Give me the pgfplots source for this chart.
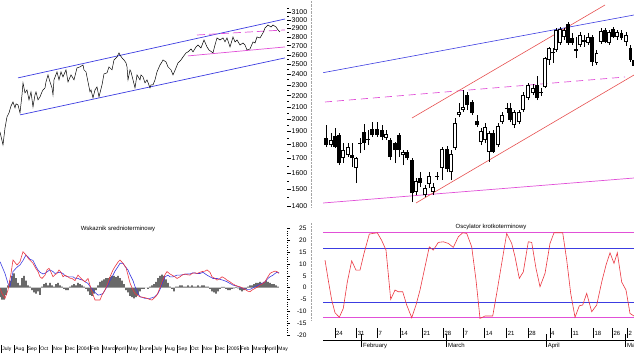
\documentclass[border=0pt]{standalone}
\usepackage{fontspec}
\setmainfont{Liberation Sans}
\usepackage{pgfplots}
\pgfplotsset{compat=1.18}
\usepackage{pgfplotstable}
\definecolor{chblue}{RGB}{60,60,225}
\definecolor{chmag}{RGB}{225,80,215}
\definecolor{chred}{RGB}{235,55,65}
\definecolor{chsalmon}{RGB}{230,80,80}
\definecolor{chgray}{RGB}{105,105,105}
\newcommand{\dl}[1]{\rule[2pt]{0.4pt}{10pt}\kern1.2pt\raisebox{4pt}{#1}}
\newcommand{\ml}[1]{\rule[-2pt]{0pt}{2pt}\rule[0.5pt]{0.4pt}{13pt}\kern1.5pt #1}
\newcommand{\lm}[1]{\rule[-3pt]{0.4pt}{8pt}\kern0.8pt #1}

% candles: x, high, low, body top, body bottom (height above panel bottom)
\pgfplotstableread{
x hi lo top bot
326 85 63 72 65
335 82 62 74 63
339 77 45 75 47
352 67 43 55 52
360 72 57 67 66
364 86 60 78 67
368 80 65 71 70
372 88 73 81 75
377 88 73 81 75
382 85 70 80 73
390 72 50 70 53
395 68 47 67 60
399 77 53 75 60
407 60 50 58 52
412 52 8 50 17
420 38 23 32 27
437 38 30 34.5 33.5
447 64 38 61 41
467 118 100 115 105
472 110 95 108 97
477 95 83 89 85
493 80 57 77 58
507 107 97 102 101
510 107 88 102 90
537 134 110 125 112
541 122 114 118 117
553 162 147 157.5 156.5
568 188 165 186 167
572 177 165 172 167
576 173 152 161 159
584 175 163 170 168
592 175 144 173 148
605 182 167 180 168
613 183 172 181 173
621.5 180 170 177 172
630.5 165 148 162 150
634 152 140 150 144
}\blackc
\pgfplotstableread{
x hi lo top bot
331 77 63 70 65
343 67 47 60 52
348 67 53 63 55
356 53 27 52 42
386 80 70 76 72
403 60 45 58 55
416 32 15 29 18
425 25 13 22 15
429 38 22 34 26
433 27 15 23 18
442 63 30 61 42
451 60 30 56 38
455 92 60 87 62
459 107 93 98 95
463 120 98 103 100
481 82 65 79 68
485 87 67 83 70
489 79 48 77 58
498 87 63 84 65
502 98 86 95 88
514 100 82 98 85
519 100 86 98 88
523 118 98 115 100
528 127 110 125 112
533 126 115 122 117
545 153 122 152 123
549 163 145 162 150
556 182 158 180 160
560 183 165 181 167
564 182 170 180 173
580 178 163 175 165
588 177 165 173 167
596.5 160 145 157 147
601 182 166 179 168
609 180 165 178 167
617 180 170 178 173
626 178 164 175 168
}\whitec

\begin{document}
\begin{tikzpicture}[x=1pt,y=1pt]
\useasboundingbox (0,0) rectangle (634,357);

% ---------------- top left: long-term price chart
\begin{axis}[
 at={(0pt,149.3pt)}, anchor=south west, scale only axis,
 width=287pt, height=203.45pt,
 xmin=0, xmax=287, ymin=1390, ymax=3200, ymode=log,
 axis x line=none, axis y line*=right,
 y axis line style={draw=none},
 ytick={1400,1500,1600,1700,1800,1900,2000,2100,2200,2300,2400,2500,2600,2700,2800,2900,3000,3100},
 yticklabels={1400,1500,1600,1700,1800,1900,2000,2100,2200,2300,2400,2500,2600,2700,2800,2900,3000,3100},
 minor ytick={1450,1550,1650,1750,1850,1950,2050,2150,2250,2350,2450,2550,2650,2750,2850,2950,3050,3150},
 tick align=outside, major tick length=3.5pt, minor tick length=1.5pt,
 tick style={black, line width=0.5pt},
 yticklabel style={font=\fontsize{7}{8}\selectfont, inner sep=1pt},
]
\addplot[chblue, line width=0.7pt] coordinates {(18,2366) (285,3012)};
\addplot[chblue, line width=0.7pt] coordinates {(20,2033) (285,2568)};
\addplot[chmag, line width=0.7pt] coordinates {(188,2589) (285,2686)};
\addplot[chmag, line width=0.7pt, dash pattern=on 8pt off 4pt] coordinates {(197,2821) (285,2880)};
\addplot[black, line width=0.5pt] coordinates {
(0,1896) (3,1798) (5,1927) (7,2017) (9,2050) (11,2109) (13,2144) (15,2092) (16,2127) (18,2118)
(20,2050) (22,2207) (23,2318) (25,2225) (27,2252) (29,2162) (31,2234) (33,2101) (35,2207) (36,2234)
(38,2162) (40,2189) (42,2234) (43,2252) (45,2271) (46,2327) (48,2395) (50,2327) (52,2271) (53,2207)
(54,2347) (57,2425) (59,2347) (61,2425) (63,2376) (66,2445) (68,2327) (71,2395) (74,2347) (77,2465)
(80,2475) (83,2495) (84,2445) (86,2425) (88,2327) (90,2234) (91,2252) (93,2180) (95,2252) (97,2280)
(99,2189) (102,2299) (104,2405) (107,2415) (109,2475) (112,2445) (114,2547) (117,2578) (119,2621) (120,2599)
(122,2568) (124,2547) (126,2516) (127,2475) (128,2347) (130,2445) (131,2425) (133,2347) (135,2271) (137,2395)
(140,2347) (141,2395) (143,2376) (145,2318) (147,2347) (150,2271) (151,2299) (153,2299) (155,2347) (157,2425)
(160,2495) (162,2526) (163,2547) (166,2526) (168,2475) (171,2445) (173,2395) (176,2465) (178,2516) (181,2547)
(183,2578) (186,2621) (188,2632) (191,2664) (193,2632) (196,2686) (198,2708) (201,2675) (204,2764) (207,2686)
(209,2653) (213,2621) (215,2708) (217,2787) (220,2764) (223,2787) (225,2742) (227,2787) (230,2686) (233,2798)
(235,2742) (237,2764) (240,2708) (243,2730) (245,2708) (247,2653) (250,2664) (253,2742) (255,2730) (257,2798)
(260,2787) (263,2845) (265,2903) (268,2939) (271,2915) (273,2939) (276,2915) (278,2880) (280,2856)};
\end{axis}

% ---------------- bottom left: medium-term indicator
\begin{axis}[
 at={(0pt,17.16pt)}, anchor=south west, scale only axis,
 width=287pt, height=116.13pt,
 xmin=0, xmax=287, ymin=-22, ymax=27,
 axis x line*=bottom, axis y line*=right,
 x axis line style={draw=none}, y axis line style={draw=none},
 xtick style={draw=none},
 xtick={1,14,26.5,39,52,64.5,77,89.5,102,114.5,127,139.5,152,164.5,177,189.5,202,214.5,227,239.5,252,264.5,277},
 xticklabels={{\lm{July}},{\lm{Aug}},{\lm{Sep}},{\lm{Oct}},{\lm{Nov}},{\lm{Dec}},{\lm{2004}},{\lm{Feb}},{\lm{March}},{\lm{April}},{\lm{May}},{\lm{June}},{\lm{July}},{\lm{Aug}},{\lm{Sep}},{\lm{Oct}},{\lm{Nov}},{\lm{Dec}},{\lm{2005}},{\lm{Feb}},{\lm{March}},{\lm{April}},{\lm{May}}},
 xticklabel style={font=\fontsize{5}{5}\selectfont, anchor=north west, inner sep=0pt, yshift=-2pt},
 ytick={-20,-15,-10,-5,0,5,10,15,20,25}, minor y tick num=4,
 tick align=outside, major tick length=3pt, minor tick length=1.2pt,
 ytick style={black, line width=0.5pt},
 yticklabel style={font=\fontsize{6.5}{7}\selectfont, anchor=east, xshift=20pt},
 /pgf/number format/assume math mode=true,
]
\addplot[ybar, bar width=1.7pt, fill=chgray, draw=none] coordinates {
(0,-4) (2,-5) (4,-5) (6,-3) (8,1) (10,3) (12,5) (14,6) (16,4) (18,2) (20,1) (22,4) (24,5) (26,3)
(28,1) (30,0.5) (32,-1) (34,-2) (36,-2.5) (38,-1.5) (40,-3) (42,0.5) (44,1.5) (46,2) (48,1) (50,2)
(52,1) (54,0.5) (56,1.5) (58,2) (60,1) (62,0.5) (64,-0.5) (66,-1) (68,-1) (70,0.5) (72,1) (74,1.5)
(76,1) (78,2) (80,1.5) (82,1) (84,0.5) (86,-0.5) (88,-1.5) (90,-3) (92,-3.5) (94,-2.5) (96,-1)
(98,1) (100,2.5) (102,3) (104,3.5) (106,4) (108,4) (110,4.5) (112,5) (114,5) (116,4.5) (118,5)
(120,4) (122,3) (124,1.5) (126,-1) (128,-2) (130,-3.5) (132,-4) (134,-4.5) (136,-4) (138,-3)
(140,-1.5) (142,-0.5) (144,-0.5) (146,0) (148,-0.5) (150,0.5) (152,1) (154,1.5) (156,2.5) (158,4)
(160,5) (162,5.5) (164,5) (166,3.5) (168,2) (170,0.5) (172,-0.5) (174,-1.5) (176,0.5) (178,0.5)
(180,1) (182,1) (184,0.5) (186,0.5) (188,1) (190,0.5) (192,1) (194,0.5) (196,0.5) (198,1) (200,0.5)
(202,1) (204,1) (206,0.5) (208,0.5) (210,-0.5) (212,-1.5) (214,-2) (216,-2.5) (218,-1.5) (220,-0.5)
(222,0.3) (224,0.3) (226,-0.5) (228,-1) (230,-1) (232,-0.5) (234,-0.3) (236,0.3) (238,-0.3) (240,-1)
(242,-1.5) (244,-1) (246,-0.5) (248,0.5) (250,1) (252,1) (254,1.5) (256,2) (258,2) (260,2.5) (262,2)
(264,2.5) (266,3) (268,2.5) (270,2) (272,1.5) (274,1.5) (276,1) (278,0.5)};
\addplot[chblue, line width=0.6pt] coordinates {
(0,11.0) (2,9.0) (5,6.0) (8,1.8) (10,0.5) (13,6.8) (16,8.2) (18,9.0) (20,9.6) (23,11.5) (26,13.8)
(28,13.0) (30,12.0) (33,11.5) (36,8.9) (38,7.5) (40,6.5) (43,5.8) (46,6.3) (48,7.0) (50,7.5) (53,6.8)
(55,6.0) (57,6.3) (60,6.5) (63,6.0) (65,5.0) (68,4.6) (70,4.6) (73,4.6) (75,4.0) (78,3.9) (80,3.5)
(83,3.2) (85,2.5) (88,1.8) (90,0.5) (93,-1.0) (95,-2.0) (98,-3.1) (100,-3.0) (103,-2.4) (105,-1.0)
(108,1.1) (110,3.0) (113,5.3) (115,7.0) (118,8.9) (120,10.3) (123,10.3) (125,9.0) (128,7.5) (130,5.5)
(133,3.0) (135,0.5) (138,-2.4) (140,-3.8) (143,-4.2) (145,-4.5) (148,-4.5) (150,-4.5) (153,-4.1)
(155,-3.8) (158,-2.4) (160,-0.7) (163,2.5) (165,4.6) (168,5.3) (170,4.6) (173,4.6) (177,5.3) (180,5.3)
(183,5.5) (187,5.8) (190,5.8) (193,6.3) (197,6.0) (200,6.0) (203,6.5) (207,5.3) (210,4.6) (213,3.9)
(217,3.9) (220,3.5) (223,3.2) (227,2.5) (230,1.8) (233,1.1) (237,0.7) (240,0.1) (243,-0.3) (247,-0.7)
(250,-0.7) (252,-0.3) (255,0.4) (258,1.0) (262,1.8) (265,2.5) (268,3.9) (270,4.6) (273,5.3) (275,6.0)
(277,6.5) (279,6.3)};
\addplot[chred, line width=0.6pt] coordinates {
(0,-0.3) (2,-2.4) (5,-4.5) (8,-1) (11,6) (13,11.7) (17,9.6) (20,11) (23,15.2) (26,13.8) (29,12)
(33,10.3) (36,8) (38,6.8) (40,4.6) (42,3.9) (45,5.3) (47,7.5) (49,8.2) (51,6.5) (53,4.6) (55,5.5)
(57,6.0) (59,7.5) (61,6.5) (63,4.6) (65,5.3) (68,4.6) (70,4.0) (72,3.9) (75,3.0) (78,5.3) (82,3.5)
(85,2.5) (88,3.9) (90,1.0) (92,-1.7) (95,-5.2) (98,-5.2) (100,-5.2) (102,-3.1) (105,-1.0) (108,2.0)
(110,4.6) (113,7.5) (115,8.9) (118,10.8) (120,11.7) (123,10.3) (126,8.5) (128,5.3) (130,2.0)
(133,-1.0) (135,-2.5) (137,-3.1) (140,-3.8) (142,-4.0) (145,-4.2) (147,-4.5) (150,-5.0) (152,-5.2)
(155,-4.0) (157,-3.1) (160,0) (162,2.5) (165,5.5) (167,6.8) (170,5.8) (172,5.3) (175,4.6) (177,3.9)
(180,4.6) (182,5.3) (185,5.8) (187,5.5) (190,5.3) (192,6.0) (195,6.3) (197,6.0) (200,6.5) (202,6.8)
(205,7.0) (207,7.5) (210,6.5) (212,4.6) (215,3.9) (217,3.2) (220,3.9) (222,4.6) (225,3.9) (227,3.2)
(230,2.5) (232,1.8) (235,1.1) (237,0.7) (240,0.4) (242,0.0) (245,-0.7) (248,-1.5) (250,-1.7)
(252,-1.0) (255,-0.3) (258,0.4) (260,1.1) (262,1.5) (265,2.5) (267,4.0) (270,6.0) (272,6.5) (275,7.0)
(277,6.8) (279,6.0)};
\node[font=\fontsize{6}{6}\selectfont] at (axis cs:118,24.8) {Wskaznik srednioterminowy};
\end{axis}

% ---------------- top right: candlestick chart
\draw[gray!70, densely dotted, line width=0.4pt] (311,150) -- (311,357);
\begin{axis}[
 at={(323pt,147pt)}, anchor=south west, scale only axis,
 width=311pt, height=210pt,
 xmin=323, xmax=634, ymin=0, ymax=210, hide axis,
]
\addplot[chblue, line width=0.6pt] coordinates {(323,137.3) (634,195)};
\addplot[chmag, line width=0.7pt, dash pattern=on 7pt off 5pt] coordinates {(325,108) (625,133)};
\addplot[chmag, line width=0.7pt] coordinates {(323,7) (634,32)};
\addplot[chsalmon, line width=0.6pt] coordinates {(412,92) (605,205)};
\addplot[chsalmon, line width=0.6pt] coordinates {(416,7) (634,135)};
% wicks
\addplot[draw=none, mark=none, error bars/.cd, y dir=plus, y explicit, error mark=none,
  error bar style={draw=black, line width=0.6pt}]
  table[x=x, y=lo, y error plus expr=\thisrow{hi}-\thisrow{lo}] {\blackc};
\addplot[draw=none, mark=none, error bars/.cd, y dir=plus, y explicit, error mark=none,
  error bar style={draw=black, line width=0.6pt}]
  table[x=x, y=lo, y error plus expr=\thisrow{hi}-\thisrow{lo}] {\whitec};
% bodies
\addplot[draw=none, mark=none, error bars/.cd, y dir=plus, y explicit, error mark=none,
  error bar style={draw=black, line width=3.4pt}]
  table[x=x, y=bot, y error plus expr=\thisrow{top}-\thisrow{bot}] {\blackc};
\addplot[draw=none, mark=none, error bars/.cd, y dir=plus, y explicit, error mark=none,
  error bar style={draw=black, line width=3.4pt}]
  table[x=x, y=bot, y error plus expr=\thisrow{top}-\thisrow{bot}] {\whitec};
\addplot[draw=none, mark=none, error bars/.cd, y dir=plus, y explicit, error mark=none,
  error bar style={draw=white, line width=2.0pt}]
  table[x=x, y expr=\thisrow{bot}+0.7, y error plus expr=\thisrow{top}-\thisrow{bot}-1.4] {\whitec};
\end{axis}

% ---------------- bottom right: short-term oscillator
\draw[gray!70, densely dotted, line width=0.4pt] (311,37) -- (311,134);
\begin{axis}[
 at={(323pt,17pt)}, anchor=south west, scale only axis,
 width=311pt, height=120pt,
 xmin=323, xmax=634, ymin=-26.24, ymax=115.06,
 axis x line*=bottom, axis y line=none,
 x axis line style={black, line width=0.6pt},
 xtick style={draw=none},
 xtick={334.3,356,376.7,399.3,421.7,442.7,462.7,484,506,527.3,549.3,570.7,592.7,611.7,626.7},
 xticklabels={{\dl{24}},{\dl{31}},{\dl{7}},{\dl{14}},{\dl{21}},{\dl{28}},{\dl{7}},{\dl{14}},{\dl{21}},{\dl{28}},{\dl{4}},{\dl{11}},{\dl{18}},{\dl{26}},{\dl{2}}},
 xticklabel style={font=\fontsize{6}{6}\selectfont, anchor=south west, inner sep=0pt},
 extra x ticks={361,446,545.7,625},
 extra x tick labels={{\ml{February}},{\ml{March}},{\ml{April}},{\ml{May}}},
 extra x tick style={tick label style={yshift=-9.5pt}},
 clip=false,
]
\addplot[chmag, line width=0.7pt] coordinates {(323,100) (634,100)};
\addplot[chblue, line width=0.7pt] coordinates {(323,82) (634,82)};
\addplot[chblue, line width=0.7pt] coordinates {(323,18) (634,18)};
\addplot[chmag, line width=0.7pt] coordinates {(323,0) (634,0)};
\addplot[chred, line width=0.6pt] coordinates {
(325,67.9) (328.3,44) (331.7,20.8) (335,5.9) (339.3,0.5) (343.3,11) (347.3,42) (351.7,67) (356,56)
(360,56) (364,75.7) (369.3,98.5) (373.3,99.3) (377.3,100) (381.7,91) (386,79.6) (390.7,21.6)
(395,32.6) (398.3,30.6) (402.7,30.6) (406.7,15) (411.7,0) (416,15) (420,32.6) (425,60) (429.3,83.5)
(433.3,79.6) (438.3,88.7) (443.3,89.4) (448.3,87.5) (453.3,82.8) (458.3,95.3) (462.7,100)
(466.7,99.3) (471.7,83.5) (476,44.4) (480,-0.8) (485,2) (492.7,2) (496.7,28.7) (501.7,64)
(506.7,99.3) (511.7,87.5) (515,71.8) (519.3,46.3) (523.3,54) (528.3,89.4) (531.7,88.7) (536,58)
(540,36.5) (545,52.2) (550,87.5) (554,100) (558.3,100) (562.7,100) (566.7,68) (570.7,28.7)
(575,0.5) (579.3,14) (582.7,15) (586.7,28.7) (591.7,7) (596.7,15) (601.7,42) (606,62) (610,76.5)
(614,64) (617.3,76.5) (621.7,42) (626,32.6) (630,5) (634,2)};
\node[font=\fontsize{6}{6}\selectfont] at (axis cs:491,106.7) {Oscylator krotkoterminowy};
\end{axis}
\end{tikzpicture}
\end{document}
